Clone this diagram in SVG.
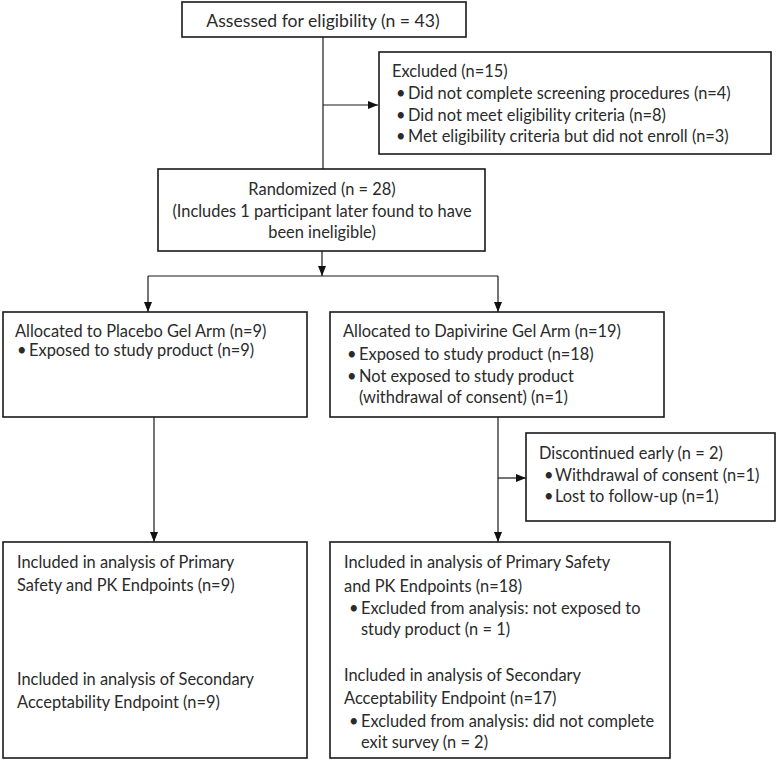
<svg xmlns="http://www.w3.org/2000/svg" width="777" height="763" viewBox="0 0 777 763">
<defs>
<marker id="ah" markerWidth="10" markerHeight="10" refX="10" refY="5" orient="auto" markerUnits="userSpaceOnUse">
<path d="M0,1 L10,5 L0,9 Z" fill="#111"/>
</marker>
<style>
.box{fill:#fff;stroke:#1a1a1a;stroke-width:1.6}
.ln{fill:none;stroke:#1a1a1a;stroke-width:1.2}
text{font-family:Lato,"Open Sans",sans-serif;font-size:16.4px;fill:#2a2a2a}
.c{text-anchor:middle}
.big{font-size:17.6px}
</style>
</defs>
<rect width="777" height="763" fill="#fff"/>
<g id="connectors">
<path class="ln" d="M323,37 V169"/>
<path class="ln" d="M323,105 H378" marker-end="url(#ah)"/>
<path class="ln" d="M322,251 V276" marker-end="url(#ah)"/>
<path class="ln" d="M148,276 H498"/>
<path class="ln" d="M148,276 V312" marker-end="url(#ah)"/>
<path class="ln" d="M498,276 V312" marker-end="url(#ah)"/>
<path class="ln" d="M154,417 V542" marker-end="url(#ah)"/>
<path class="ln" d="M498,417 V542" marker-end="url(#ah)"/>
<path class="ln" d="M498,478 H526" marker-end="url(#ah)"/>
</g>
<g id="assessed">
<rect class="box" x="182" y="2" width="284" height="35"/>
<text class="c big" x="323" y="27">Assessed for eligibility (n = 43)</text>
</g>
<g id="excluded">
<rect class="box" x="379" y="52" width="392" height="102"/>
<text x="392" y="77">Excluded (n=15)</text>
<text x="396" y="99">•</text><text x="408" y="99">Did not complete screening procedures (n=4)</text>
<text x="396" y="121">•</text><text x="408" y="121">Did not meet eligibility criteria (n=8)</text>
<text x="396" y="142">•</text><text x="408" y="142">Met eligibility criteria but did not enroll (n=3)</text>
</g>
<g id="randomized">
<rect class="box" x="158" y="169" width="327" height="82"/>
<text class="c" x="322" y="195">Randomized (n = 28)</text>
<text class="c" x="322" y="217">(Includes 1 participant later found to have</text>
<text class="c" x="322" y="238">been ineligible)</text>
</g>
<g id="placebo">
<rect class="box" x="3" y="312" width="304" height="105"/>
<text x="15" y="337">Allocated to Placebo Gel Arm (n=9)</text>
<text x="17" y="356">•</text><text x="29" y="356">Exposed to study product (n=9)</text>
</g>
<g id="dapivirine">
<rect class="box" x="330" y="312" width="334" height="105"/>
<text x="343" y="337">Allocated to Dapivirine Gel Arm (n=19)</text>
<text x="347" y="360">•</text><text x="359" y="360">Exposed to study product (n=18)</text>
<text x="347" y="382">•</text><text x="359" y="382">Not exposed to study product</text>
<text x="359" y="403">(withdrawal of consent) (n=1)</text>
</g>
<g id="discontinued">
<rect class="box" x="526" y="433" width="249" height="88"/>
<text x="539" y="459">Discontinued early (n = 2)</text>
<text x="544" y="481">•</text><text x="555" y="481">Withdrawal of consent (n=1)</text>
<text x="544" y="502">•</text><text x="555" y="502">Lost to follow-up (n=1)</text>
</g>
<g id="placebo-analysis">
<rect class="box" x="3" y="542" width="304" height="216"/>
<text x="17" y="568">Included in analysis of Primary</text>
<text x="17" y="591">Safety and PK Endpoints (n=9)</text>
<text x="17" y="685">Included in analysis of Secondary</text>
<text x="17" y="708">Acceptability Endpoint (n=9)</text>
</g>
<g id="dapivirine-analysis">
<rect class="box" x="330" y="542" width="340" height="216"/>
<text x="344" y="568">Included in analysis of Primary Safety</text>
<text x="344" y="592">and PK Endpoints (n=18)</text>
<text x="349" y="614">•</text><text x="361" y="614">Excluded from analysis: not exposed to</text>
<text x="361" y="635">study product (n = 1)</text>
<text x="344" y="681">Included in analysis of Secondary</text>
<text x="344" y="704">Acceptability Endpoint (n=17)</text>
<text x="349" y="727">•</text><text x="361" y="727">Excluded from analysis: did not complete</text>
<text x="361" y="748">exit survey (n = 2)</text>
</g>
</svg>
